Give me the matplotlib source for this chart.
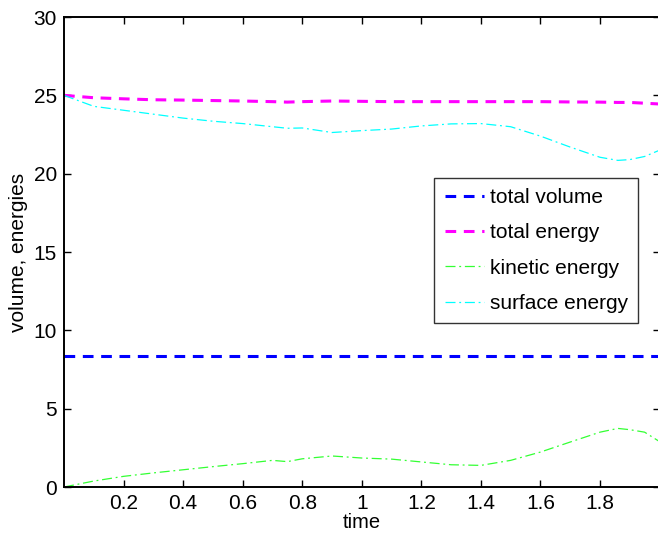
import matplotlib.pyplot as plt

plt.rcParams['font.family'] = ['Liberation Sans', 'DejaVu Sans']

# values
time = [0.0, 0.1, 0.2, 0.3, 0.4, 0.5, 0.6, 0.7, 0.75, 0.8, 0.9, 1.0, 1.1, 1.2,
        1.3, 1.4, 1.5, 1.6, 1.7, 1.8, 1.86, 1.9, 1.95, 2.0]
total_volume = [8.35] * len(time)
total_energy = [25.0, 24.85, 24.78, 24.72, 24.7, 24.67, 24.64, 24.6, 24.57, 24.6,
                24.64, 24.62, 24.6, 24.6, 24.6, 24.6, 24.6, 24.6, 24.58, 24.57,
                24.55, 24.55, 24.5, 24.45]
kinetic_energy = [0.0, 0.38, 0.68, 0.9, 1.1, 1.3, 1.49, 1.7, 1.62, 1.8, 1.98,
                  1.85, 1.78, 1.6, 1.42, 1.38, 1.7, 2.23, 2.87, 3.5, 3.74, 3.66,
                  3.5, 2.9]
surface_energy = [25.0, 24.3, 24.05, 23.8, 23.55, 23.35, 23.2, 23.0, 22.9, 22.92,
                  22.63, 22.75, 22.85, 23.05, 23.18, 23.2, 23.0, 22.4, 21.7, 21.05,
                  20.85, 20.9, 21.1, 21.5]

fig = plt.figure(figsize=(6.58, 5.33), dpi=100)
ax = fig.add_axes([0.0973, 0.0863, 0.905, 0.8817])

ax.plot(time, total_volume, color='#0000ff', linestyle='--', linewidth=2.2,
        dashes=(3.5, 2.5), label='total volume')
ax.plot(time, total_energy, color='#ff00ff', linestyle='--', linewidth=2.2,
        dashes=(3.5, 2.5), label='total energy')
ax.plot(time, kinetic_energy, color='#33ff33', linestyle='-.', linewidth=0.9,
        dashes=(8, 3, 1.5, 3), label='kinetic energy')
ax.plot(time, surface_energy, color='#00ffff', linestyle='-.', linewidth=0.9,
        dashes=(8, 3, 1.5, 3), label='surface energy')

ax.set_xlim(0, 2)
ax.set_ylim(0, 30)
ax.set_xticks([0.2, 0.4, 0.6, 0.8, 1.0, 1.2, 1.4, 1.6, 1.8])
ax.set_xticklabels(['0.2', '0.4', '0.6', '0.8', '1', '1.2', '1.4', '1.6', '1.8'])
ax.set_yticks(range(0, 31, 5))
ax.tick_params(direction='in', top=True, right=True, length=5, width=1,
               labelsize=15, pad=5)
for s in ax.spines.values():
    s.set_linewidth(1.4)

ax.set_xlabel('time', fontsize=14.5, labelpad=0)
ax.set_ylabel('volume, energies', fontsize=15, labelpad=4)

leg = ax.legend(loc='upper left', bbox_to_anchor=(0.622, 0.658), fontsize=15,
                frameon=True, fancybox=False, edgecolor='black',
                handlelength=1.9, handletextpad=0.25, labelspacing=0.78,
                borderpad=0.5, borderaxespad=0)
leg.get_frame().set_linewidth(1.0)

fig.savefig('out.png', dpi=100)
